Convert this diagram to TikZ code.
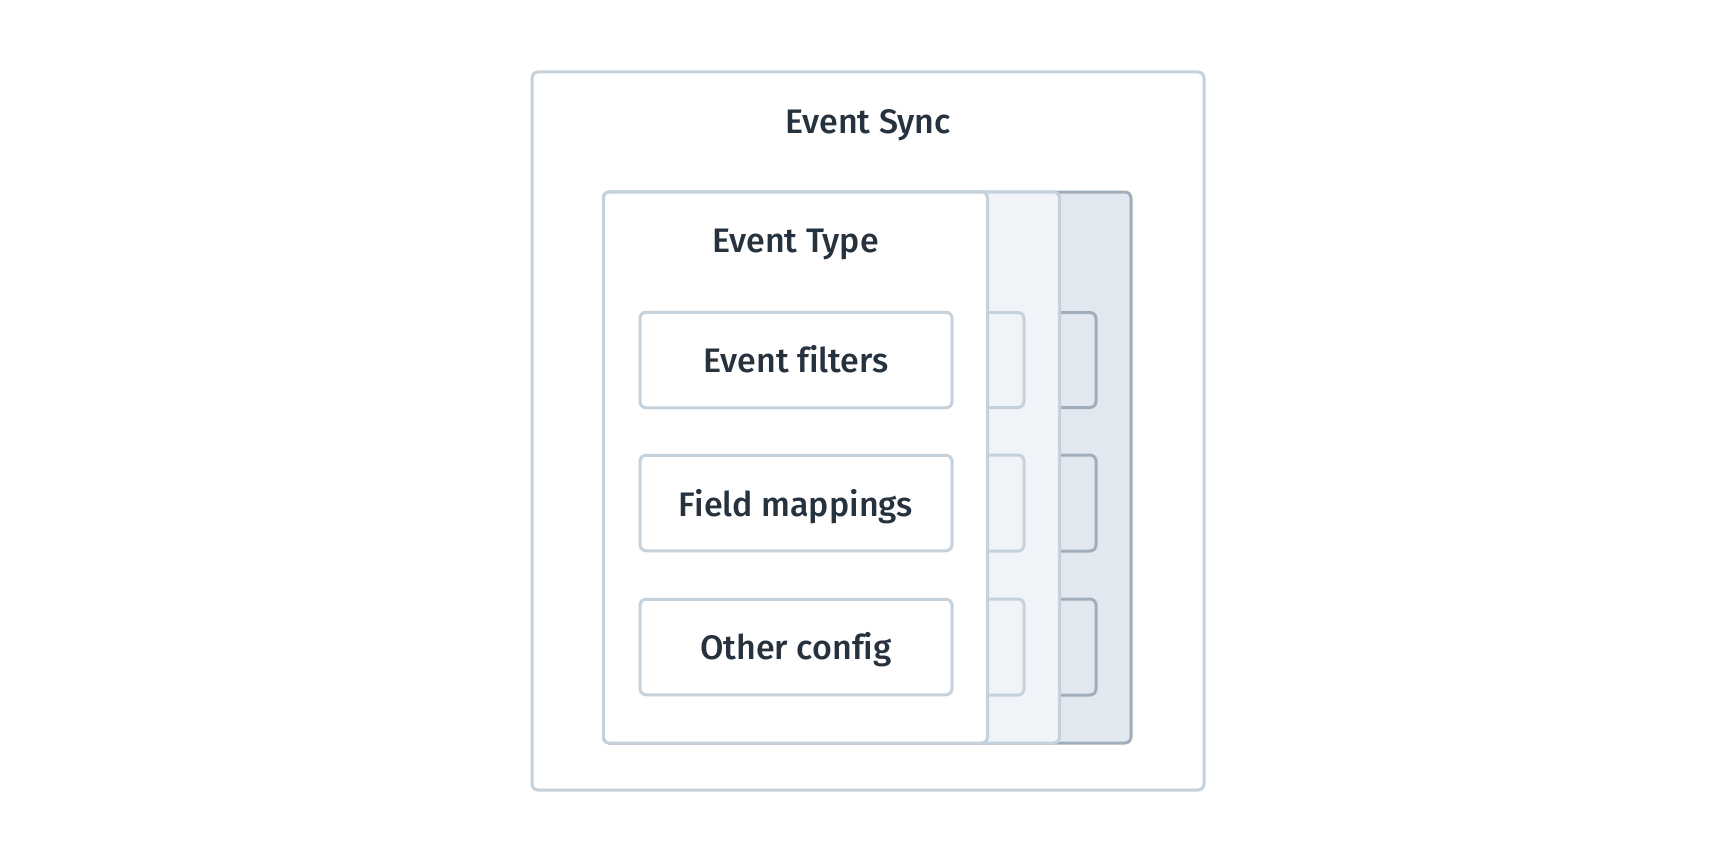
\documentclass[tikz,border=0pt]{standalone}
\usepackage{fontspec}
\setmainfont{Fira Sans}[UprightFont=* Medium, Ligatures=NoCommon]
\definecolor{lightline}{HTML}{C5D1DB}
\definecolor{darkline}{HTML}{A0AEBB}
\definecolor{backfill}{HTML}{E2E8F0}
\definecolor{midfill}{HTML}{F0F4F8}
\definecolor{txt}{HTML}{27323F}
\tikzset{
  box/.style={draw=lightline, line width=3pt, rounded corners=6pt},
  darkbox/.style={draw=darkline, line width=3pt, rounded corners=6pt},
  lbl/.style={text=txt, font=\fontsize{34}{40}\selectfont, inner sep=0pt, anchor=base},
  sub/.style={box, fill=white, minimum width=312pt, minimum height=95.5pt, inner sep=0pt},
}
\begin{document}
\begin{tikzpicture}[x=1pt,y=-1pt]
\useasboundingbox (0,0) rectangle (1736,864);
% outer
\draw[box, fill=white] (532,72) rectangle (1204,790);
\node[lbl] (sync) at (868,133) {Event Sync};
% back card (left part hidden behind the front card)
\draw[darkbox, fill=backfill] (603.5,192) rectangle (1131,743);
\draw[darkbox] (784,312.5) rectangle (1096,407.5);
\draw[darkbox] (784,455) rectangle (1096,551);
\draw[darkbox] (784,599) rectangle (1096,695);
% middle card
\draw[box, fill=midfill] (603.5,192) rectangle (1059.5,743);
\draw[box] (712,312.5) rectangle (1024,407.5);
\draw[box] (712,455) rectangle (1024,551);
\draw[box] (712,599) rectangle (1024,695);
% front card
\draw[box, fill=white] (603.5,192) rectangle (987.5,743);
\node[lbl] (etype) at (795.5,252.5) {Event Type};
\node[sub] (filters) at (796,360) {};
\node[lbl] at ([yshift=-12.5pt]filters.center) {Event filters};
\node[sub] (fields) at (796,503) {};
\node[lbl] at ([yshift=-13pt]fields.center) {Field mappings};
\node[sub] (other) at (796,647) {};
\node[lbl] at ([yshift=-12.5pt]other.center) {Other config};
\end{tikzpicture}
\end{document}
